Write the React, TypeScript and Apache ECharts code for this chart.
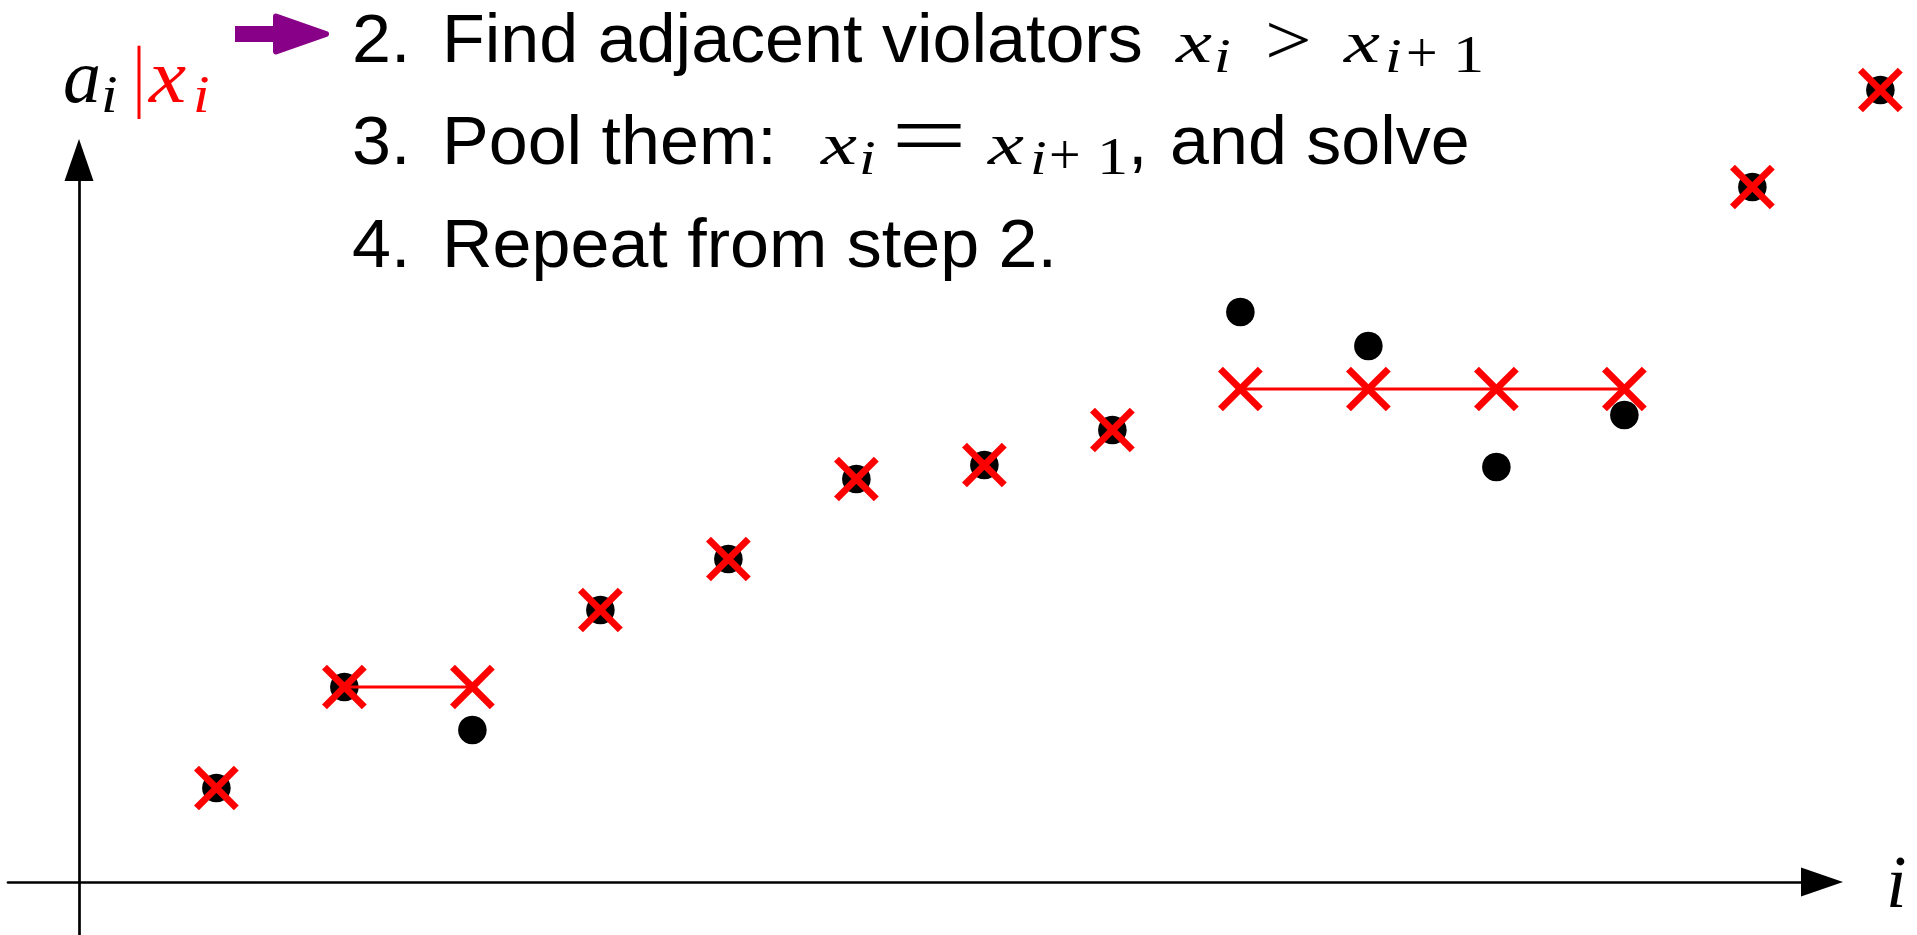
import React, { useEffect, useRef } from "react";
import * as echarts from "echarts";

// Index of each observation along the horizontal axis
const indices = [1, 2, 3, 4, 5, 6, 7, 8, 9, 10, 11, 12, 13, 14];
// Observed values a_i (black dots)
const observed = [0.94, 1.95, 1.52, 2.72, 3.23, 4.03, 4.17, 4.52, 5.7, 5.36, 4.15, 4.67, 6.95, 7.92];
// Current fitted values x_i (red crosses)
const fitted = [0.94, 1.95, 1.95, 2.72, 3.23, 4.03, 4.17, 4.52, 4.93, 4.93, 4.93, 4.93, 6.95, 7.92];
// Blocks of indices that have been pooled together (first, last)
const pooledBlocks: [number, number][] = [
  [2, 3],
  [9, 12],
];

const X_RANGE = [-0.628, 13.544];
const Y_RANGE = [-0.53, 7.22];

const RED = "#ff0000";
const PURPLE = "#880088";
const SANS = "'Liberation Sans', Arial, sans-serif";
const SERIF = "'Liberation Serif', 'Times New Roman', serif";

type TextOpts = { serif?: boolean; italic?: boolean; fill?: string; sx?: number };

// Text placed by its left edge and its alphabetic baseline
function txt(text: string, x: number, baseline: number, size: number, o: TextOpts = {}) {
  const ratio = o.serif ? 0.3374 : 0.3467;
  return {
    type: "text",
    x,
    y: baseline - ratio * size,
    scaleX: o.sx ?? 1,
    silent: true,
    style: {
      text,
      fill: o.fill ?? "#000",
      fontSize: size,
      lineHeight: Math.round(size * 0.7),
      fontFamily: o.serif ? SERIF : SANS,
      fontStyle: o.italic ? "italic" : "normal",
      align: "left",
      verticalAlign: "middle",
    },
  };
}

const TXT = 68;
const TXT_SX = 1.03;
const sans = (s: string, x: number, b: number) => txt(s, x, b, TXT, { sx: TXT_SX });

// math italic letter x, subscript pieces and relation symbols
const mx = (x: number, b: number, fill = "#000") => txt("x", x, b, 60, { serif: true, italic: true, sx: 1.35, fill });
const mi = (x: number, b: number, fill = "#000") => txt("i", x, b + 10, 48, { serif: true, italic: true, sx: 1.25, fill });
const mplus = (x: number, b: number) => txt("+", x, b + 10, 56, { serif: true });
const mone = (x: number, b: number) => txt("1", x, b + 10, 52, { serif: true, sx: 1.2 });

function buildGraphics() {
  const L1 = 62;
  const L2 = 164;
  const L3 = 267.5;
  return [
    // purple pointer arrow
    { type: "rect", silent: true, shape: { x: 235, y: 26, width: 44, height: 16 }, style: { fill: PURPLE } },
    {
      type: "polygon",
      silent: true,
      shape: { points: [[276, 16.5], [326, 34], [276, 51.5]] },
      style: { fill: PURPLE, stroke: PURPLE, lineWidth: 6, lineJoin: "round" },
    },
    // vertical axis label a_i | x_i
    txt("a", 63, 101.7, 76, { serif: true, italic: true }),
    txt("i", 101, 112, 52, { serif: true, italic: true, sx: 1.15 }),
    { type: "rect", silent: true, shape: { x: 137.5, y: 45.7, width: 3, height: 73.3 }, style: { fill: RED } },
    txt("x", 149, 101.7, 76, { serif: true, italic: true, sx: 1.1, fill: RED }),
    txt("i", 193, 112, 52, { serif: true, italic: true, sx: 1.15, fill: RED }),

    // step 2
    sans("2.", 352, L1),
    sans("Find adjacent violators", 442, L1),
    mx(1176, L1),
    mi(1214, L1),
    txt(">", 1265, L1 + 2, 72, { serif: true, sx: 1.15 }),
    mx(1344, L1),
    mi(1385, L1),
    mplus(1406, L1),
    mone(1453, L1),

    // step 3
    sans("3.", 352, L2),
    sans("Pool them:", 442, L2),
    mx(821, L2),
    mi(859, L2),
    txt("=", 891, L2 + 2, 90, { serif: true, sx: 1.5 }),
    mx(988, L2),
    mi(1030, L2),
    mplus(1049, L2),
    mone(1097, L2),
    sans(",", 1128, L2),
    sans("and solve", 1170, L2),

    // step 4
    sans("4.", 352, L3),
    sans("Repeat from step 2.", 442, L3),
  ];
}

export default function App() {
  const ref = useRef<HTMLDivElement>(null);

  useEffect(() => {
    if (!ref.current) return;
    const chart = echarts.init(ref.current, undefined, { renderer: "svg" });

    const pointData = indices.map((i, k) => [i, observed[k], fitted[k]]);

    const poolSeries = pooledBlocks.map(([s, e]) => ({
      type: "line",
      z: 3,
      clip: false,
      silent: true,
      symbol: "none",
      lineStyle: { color: RED, width: 2.8 },
      data: indices.filter((i) => i >= s && i <= e).map((i) => [i, fitted[i - 1]]),
    }));

    chart.setOption({
      animation: false,
      backgroundColor: "#ffffff",
      grid: { left: 8, right: 95, top: 160, bottom: 0, containLabel: false },
      xAxis: {
        type: "value",
        min: X_RANGE[0],
        max: X_RANGE[1],
        name: "i",
        nameLocation: "end",
        nameGap: 64,
        nameTextStyle: { fontFamily: SERIF, fontStyle: "italic", fontSize: 74, color: "#000", padding: [0, 0, 6, 0] },
        axisLine: {
          onZero: true,
          symbol: ["none", "triangle"],
          symbolSize: [29, 42],
          lineStyle: { color: "#000", width: 2.7 },
        },
        axisTick: { show: false },
        axisLabel: { show: false },
        splitLine: { show: false },
      },
      yAxis: {
        type: "value",
        min: Y_RANGE[0],
        max: Y_RANGE[1],
        position: "left",
        offset: -71,
        axisLine: {
          onZero: false,
          symbol: ["none", "triangle"],
          symbolSize: [29, 42],
          lineStyle: { color: "#000", width: 2.7 },
        },
        axisTick: { show: false },
        axisLabel: { show: false },
        splitLine: { show: false },
      },
      series: [
        {
          type: "custom",
          z: 2,
          clip: false,
          silent: true,
          encode: { x: 0, y: 1 },
          data: pointData,
          renderItem: (_params: any, api: any) => {
            const i = api.value(0);
            const a = api.value(1);
            const x = api.value(2);
            const [dx, dy] = api.coord([i, a]);
            const [cx, cy] = api.coord([i, x]);
            const h = 19.9;
            const dot = { type: "circle", shape: { cx: dx, cy: dy, r: 14.3 }, style: { fill: "#000" } };
            const cross = {
              type: "group",
              children: [
                { type: "line", shape: { x1: cx - h, y1: cy - h, x2: cx + h, y2: cy + h }, style: { stroke: RED, lineWidth: 7, lineCap: "butt" } },
                { type: "line", shape: { x1: cx - h, y1: cy + h, x2: cx + h, y2: cy - h }, style: { stroke: RED, lineWidth: 7, lineCap: "butt" } },
              ],
            };
            const children = a === x ? [dot, cross] : [cross, dot];
            return { type: "group", children };
          },
        },
        ...poolSeries,
      ],
      graphic: buildGraphics(),
    });

    return () => chart.dispose();
  }, []);

  return (
    <div
      ref={ref}
      style={{ position: "fixed", left: 0, top: 0, width: 1917, height: 935, background: "#fff" }}
    />
  );
}
